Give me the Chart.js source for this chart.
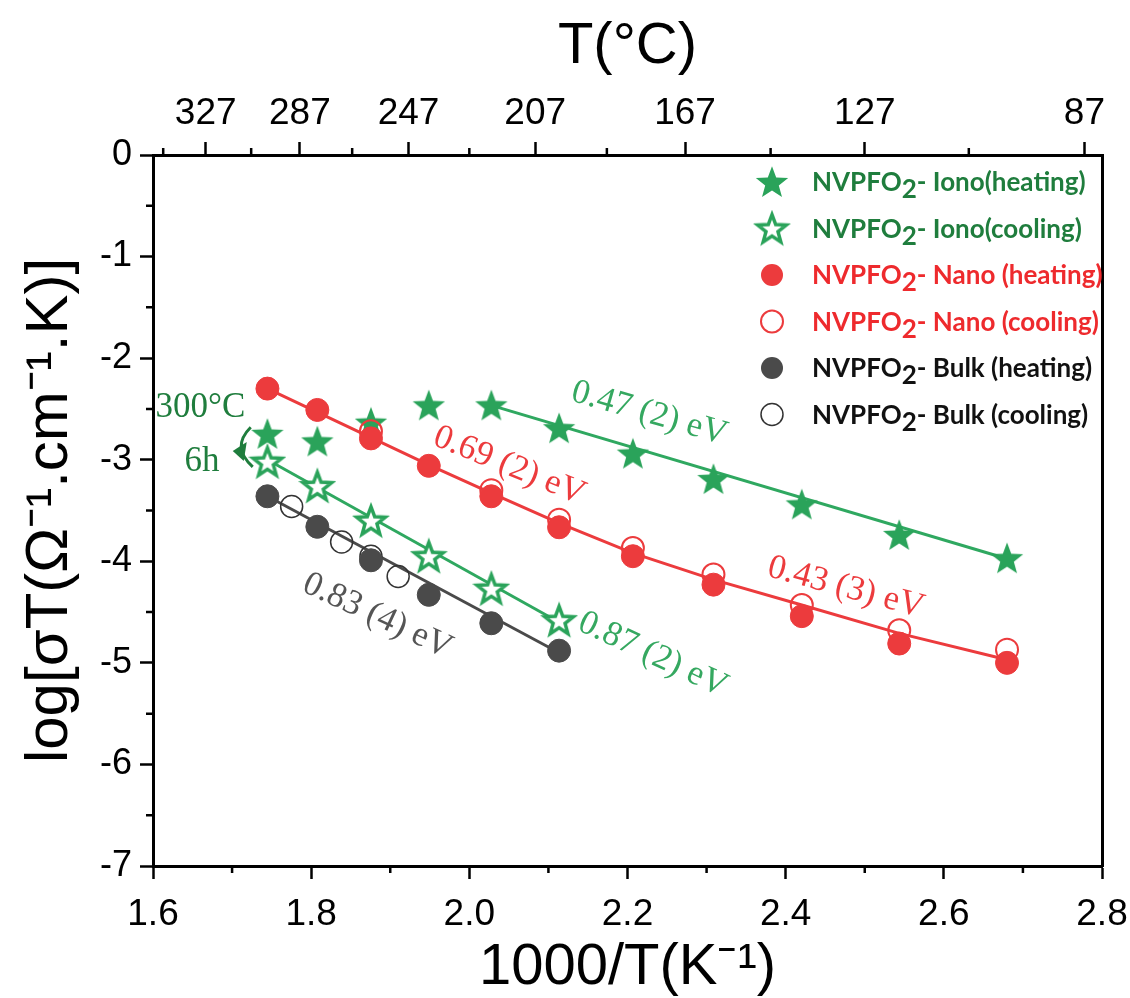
<!DOCTYPE html>
<html lang="en">
<head>
  <meta charset="UTF-8" />
  <title>NVPFO2 Arrhenius plot</title>
  <script src="https://cdn.jsdelivr.net/npm/chart.js"></script>
  <style>
    body {
      margin: 0;
      background: #fff;
    }
    #wrap {
      width: 1130px;
      height: 998px;
    }
  </style>
</head>
<body>
  <div id="wrap"><canvas id="arrhenius" width="1130" height="998"></canvas></div>

  <script>
    // 1000/T of the measuring temperatures (300 C down to 100 C, 20 C steps)
    const invT = [1.7447, 1.8078, 1.8756, 1.9487, 2.0278, 2.1135, 2.2068, 2.3087, 2.4204, 2.5436, 2.6799];

    // log(sigma*T)
    const ionoHeat = [-2.745, -2.82, -2.635, -2.465, -2.465, -2.69, -2.94, -3.19, -3.44, -3.74, -3.97];
    const ionoCool = [-3.02, -3.26, -3.60, -3.95, -4.27, -4.58];
    const nanoHeat = [-2.30, -2.51, -2.79, -3.06, -3.36, -3.665, -3.95, -4.23, -4.54, -4.81, -5.00];
    const nanoCoolX = [1.8756, 2.0278, 2.1135, 2.2068, 2.3087, 2.4204, 2.5436, 2.6799];
    const nanoCool = [-2.72, -3.30, -3.59, -3.87, -4.13, -4.43, -4.68, -4.87];
    const bulkHeat = [-3.36, -3.66, -3.99, -4.33, -4.61, -4.88];
    const bulkCoolX = [1.7753, 1.8385, 1.8756, 1.9100];
    const bulkCool = [-3.46, -3.81, -3.95, -4.15];

    // fitted lines
    const ionoFitX = [2.0278, 2.6799];
    const ionoFit = [-2.465, -3.975];
    const ionoCoolFitX = [1.7447, 2.1135];
    const ionoCoolFit = [-3.00, -4.60];
    const nanoFitX = [1.7447, 1.9487, 2.0278, 2.1135, 2.2068, 2.3087, 2.4204, 2.5436, 2.6799];
    const nanoFit = [-2.30, -3.05, -3.33, -3.625, -3.92, -4.18, -4.43, -4.71, -4.97];
    const bulkFitX = [1.7447, 2.1135];
    const bulkFit = [-3.36, -4.90];

    // axes
    const xMinorTicks = [1.7, 1.9, 2.1, 2.3, 2.5, 2.7];
    const yMinorTicks = [-0.5, -1.5, -2.5, -3.5, -4.5, -5.5, -6.5];
    const topMajorC = [327, 287, 247, 207, 167, 127, 87];
    const topMinorC = [347, 307, 267, 227, 187, 147, 107];

    const GREEN = "#2aa35a";
    const GREEN_TXT = "#1f7d3d";
    const RED = "#ec3b3d";
    const GRAY = "#4a4a4a";
    const SANS = "'Liberation Sans', Arial, sans-serif";
    const SERIF = "'Liberation Serif', 'Times New Roman', serif";

    const pts = (xs, ys) => xs.map((x, i) => ({ x: x, y: ys[i] }));

    function makeStar(R, fill, stroke, lw) {
      const c = document.createElement("canvas");
      const s = Math.ceil(2 * R + lw + 4);
      c.width = s;
      c.height = s;
      const g = c.getContext("2d");
      g.translate(s / 2, s / 2 + R * 0.08);
      g.beginPath();
      for (let k = 0; k < 10; k++) {
        const r = k % 2 ? R * 0.42 : R;
        const a = -Math.PI / 2 + k * Math.PI / 5;
        if (k === 0) g.moveTo(r * Math.cos(a), r * Math.sin(a));
        else g.lineTo(r * Math.cos(a), r * Math.sin(a));
      }
      g.closePath();
      g.fillStyle = fill;
      g.fill();
      if (stroke) {
        g.lineJoin = "miter";
        g.lineWidth = lw;
        g.strokeStyle = stroke;
        g.stroke();
      }
      return c;
    }

    const starFull = makeStar(17, GREEN, null, 0);
    const starOpen = makeStar(15, "#fff", GREEN, 3.5);

    const legendItems = [
      { label: "- Iono(heating)", color: GREEN_TXT, marker: "starFull" },
      { label: "- Iono(cooling)", color: GREEN_TXT, marker: "starOpen" },
      { label: "- Nano (heating)", color: "#ee2a2d", marker: "redFull" },
      { label: "- Nano (cooling)", color: "#ee2a2d", marker: "redOpen" },
      { label: "- Bulk (heating)", color: "#111", marker: "grayFull" },
      { label: "- Bulk (cooling)", color: "#111", marker: "grayOpen" }
    ];

    const notes = [
      { text: "0.47 (2) eV", x: 2.2275, y: -2.545, rot: 16, color: "#35a860" },
      { text: "0.69 (2) eV", x: 2.0505, y: -3.06, rot: 22, color: RED },
      { text: "0.43 (3) eV", x: 2.476, y: -4.26, rot: 15, color: RED },
      { text: "0.87 (2) eV", x: 2.232, y: -4.92, rot: 25, color: "#35a860" },
      { text: "0.83 (4) eV", x: 1.8837, y: -4.54, rot: 25, color: "#555" },
      { text: "300°C", x: 1.660, y: -2.49, rot: 0, color: GREEN_TXT },
      { text: "6h", x: 1.662, y: -3.02, rot: 0, color: GREEN_TXT }
    ];

    const minorTicks = {
      id: "minorTicks",
      afterDraw(chart) {
        const { ctx, chartArea, scales } = chart;
        ctx.save();
        ctx.strokeStyle = "#000";
        ctx.lineWidth = 2.5;
        ctx.beginPath();
        xMinorTicks.forEach(v => {
          const px = scales.x.getPixelForValue(v);
          ctx.moveTo(px, chartArea.bottom);
          ctx.lineTo(px, chartArea.bottom + 7);
        });
        topMinorC.forEach(c => {
          const px = scales.x2.getPixelForValue(1000 / (c + 273));
          ctx.moveTo(px, chartArea.top);
          ctx.lineTo(px, chartArea.top - 7);
        });
        yMinorTicks.forEach(v => {
          const py = scales.y.getPixelForValue(v);
          ctx.moveTo(chartArea.left, py);
          ctx.lineTo(chartArea.left - 7, py);
        });
        ctx.stroke();
        ctx.restore();
      }
    };

    const notesPlugin = {
      id: "notes",
      afterDatasetsDraw(chart) {
        const { ctx, scales } = chart;
        ctx.save();
        ctx.textAlign = "center";
        ctx.textBaseline = "middle";
        ctx.font = "35px " + SERIF;
        notes.forEach(n => {
          ctx.save();
          ctx.translate(scales.x.getPixelForValue(n.x), scales.y.getPixelForValue(n.y));
          ctx.rotate(n.rot * Math.PI / 180);
          ctx.fillStyle = n.color;
          ctx.fillText(n.text, 0, 0);
          ctx.restore();
        });
        // curved arrow next to "6h"
        const ax = scales.x.getPixelForValue(1.716);
        const ay1 = scales.y.getPixelForValue(-2.68);
        const ay2 = scales.y.getPixelForValue(-3.07);
        ctx.strokeStyle = GREEN_TXT;
        ctx.fillStyle = GREEN_TXT;
        ctx.lineWidth = 3;
        ctx.beginPath();
        ctx.moveTo(ax + 6, ay1);
        ctx.quadraticCurveTo(ax - 14, (ay1 + ay2) / 2, ax + 8, ay2);
        ctx.stroke();
        const hy = (ay1 + ay2) / 2 + 4;
        ctx.beginPath();
        ctx.moveTo(ax - 12, hy);
        ctx.lineTo(ax + 2, hy - 9);
        ctx.lineTo(ax - 1, hy + 10);
        ctx.closePath();
        ctx.fill();
        ctx.restore();
      }
    };

    const legendPlugin = {
      id: "boxLegend",
      afterDraw(chart) {
        const { ctx, chartArea } = chart;
        const mx = chartArea.right - 330;
        const tx = chartArea.right - 290;
        const y0 = chartArea.top + 27;
        const dy = 46.5;
        ctx.save();
        legendItems.forEach((it, i) => {
          const y = y0 + i * dy;
          if (it.marker === "starFull") ctx.drawImage(starFull, mx - starFull.width / 2, y - starFull.height / 2);
          else if (it.marker === "starOpen") ctx.drawImage(starOpen, mx - starOpen.width / 2, y - starOpen.height / 2);
          else {
            ctx.beginPath();
            ctx.arc(mx, y, 11, 0, Math.PI * 2);
            if (it.marker === "redFull") { ctx.fillStyle = RED; ctx.fill(); }
            else if (it.marker === "grayFull") { ctx.fillStyle = GRAY; ctx.fill(); }
            else if (it.marker === "redOpen") { ctx.strokeStyle = RED; ctx.lineWidth = 2; ctx.stroke(); }
            else { ctx.strokeStyle = "#333"; ctx.lineWidth = 1.5; ctx.stroke(); }
          }
          ctx.fillStyle = it.color;
          ctx.textBaseline = "alphabetic";
          ctx.textAlign = "left";
          ctx.font = "bold 26px Lato, 'Open Sans', sans-serif";
          let x = tx;
          ctx.fillText("NVPFO", x, y + 9);
          x += ctx.measureText("NVPFO").width;
          ctx.fillText("2", x, y + 16);
          x += ctx.measureText("2").width;
          ctx.fillText(it.label, x, y + 9);
        });
        ctx.restore();
      }
    };

    const lineDs = (xs, ys, color) => ({
      data: pts(xs, ys),
      showLine: true,
      borderColor: color,
      borderWidth: 3,
      pointRadius: 0,
      order: 10
    });

    const ctx = document.getElementById("arrhenius").getContext("2d");
    new Chart(ctx, {
      type: "scatter",
      data: {
        datasets: [
          lineDs(ionoFitX, ionoFit, "#2fa860"),
          lineDs(ionoCoolFitX, ionoCoolFit, "#2fa860"),
          lineDs(nanoFitX, nanoFit, RED),
          lineDs(bulkFitX, bulkFit, GRAY),
          { label: "Iono heating", data: pts(invT, ionoHeat), pointStyle: starFull, order: 6 },
          { label: "Iono cooling", data: pts(invT.slice(0, 6), ionoCool), pointStyle: starOpen, order: 5 },
          { label: "Nano cooling", data: pts(nanoCoolX, nanoCool), pointRadius: 11, pointBackgroundColor: "rgba(255,255,255,0)", pointBorderColor: RED, pointBorderWidth: 2, order: 4 },
          { label: "Nano heating", data: pts(invT, nanoHeat), pointRadius: 11.5, pointBackgroundColor: RED, pointBorderColor: RED, pointBorderWidth: 1, order: 3 },
          { label: "Bulk cooling", data: pts(bulkCoolX, bulkCool), pointRadius: 11, pointBackgroundColor: "rgba(255,255,255,0)", pointBorderColor: "#333", pointBorderWidth: 1.5, order: 2 },
          { label: "Bulk heating", data: pts(invT.slice(0, 6), bulkHeat), pointRadius: 11.5, pointBackgroundColor: GRAY, pointBorderColor: GRAY, pointBorderWidth: 1, order: 1 }
        ]
      },
      options: {
        responsive: false,
        animation: false,
        devicePixelRatio: 1,
        layout: { padding: 0 },
        plugins: {
          legend: { display: false },
          tooltip: { enabled: false }
        },
        scales: {
          x: {
            type: "linear",
            position: "bottom",
            min: 1.6,
            max: 2.8,
            afterFit(s) { s.height = 132; s.paddingLeft = 0; s.paddingRight = 0; },
            border: { color: "#000", width: 3 },
            grid: { drawOnChartArea: false, drawTicks: true, tickLength: 13, tickWidth: 2.5, tickColor: "#000" },
            ticks: {
              stepSize: 0.2,
              color: "#000",
              padding: 14,
              maxRotation: 0,
              font: { family: SANS, size: 37 },
              callback: v => v.toFixed(1)
            },
            title: {
              display: true,
              text: "1000/T(K⁻¹)",
              color: "#000",
              padding: { top: 0, bottom: -5 },
              font: { family: SANS, size: 58 }
            }
          },
          x2: {
            type: "linear",
            position: "top",
            min: 1.6,
            max: 2.8,
            afterFit(s) { s.height = 155; s.paddingLeft = 0; s.paddingRight = 0; },
            afterBuildTicks(s) { s.ticks = topMajorC.map(c => ({ value: 1000 / (c + 273) })); },
            border: { color: "#000", width: 3 },
            grid: { drawOnChartArea: false, drawTicks: true, tickLength: 13, tickWidth: 2.5, tickColor: "#000" },
            ticks: {
              autoSkip: false,
              maxRotation: 0,
              color: "#000",
              padding: 6,
              font: { family: SANS, size: 37 },
              callback: v => Math.round(1000 / v - 273)
            },
            title: {
              display: true,
              text: "T(°C)",
              color: "#000",
              padding: { top: 12, bottom: 0 },
              font: { family: SANS, size: 58 }
            }
          },
          y: {
            type: "linear",
            position: "left",
            min: -7,
            max: 0,
            afterFit(s) { s.width = 153; s.paddingTop = 0; s.paddingBottom = 0; },
            border: { color: "#000", width: 3 },
            grid: { drawOnChartArea: false, drawTicks: true, tickLength: 13, tickWidth: 2.5, tickColor: "#000" },
            ticks: {
              stepSize: 1,
              color: "#000",
              padding: 8,
              font: { family: SANS, size: 36 }
            },
            title: {
              display: true,
              text: "log[σT(Ω⁻¹.cm⁻¹.K)]",
              color: "#000",
              padding: { top: 14, bottom: 0 },
              font: { family: SANS, size: 60 }
            }
          },
          y2: {
            type: "linear",
            position: "right",
            min: -7,
            max: 0,
            afterFit(s) { s.width = 28; },
            border: { color: "#000", width: 3 },
            grid: { display: false },
            ticks: { display: false }
          }
        }
      },
      plugins: [minorTicks, notesPlugin, legendPlugin]
    });
  </script>
</body>
</html>
